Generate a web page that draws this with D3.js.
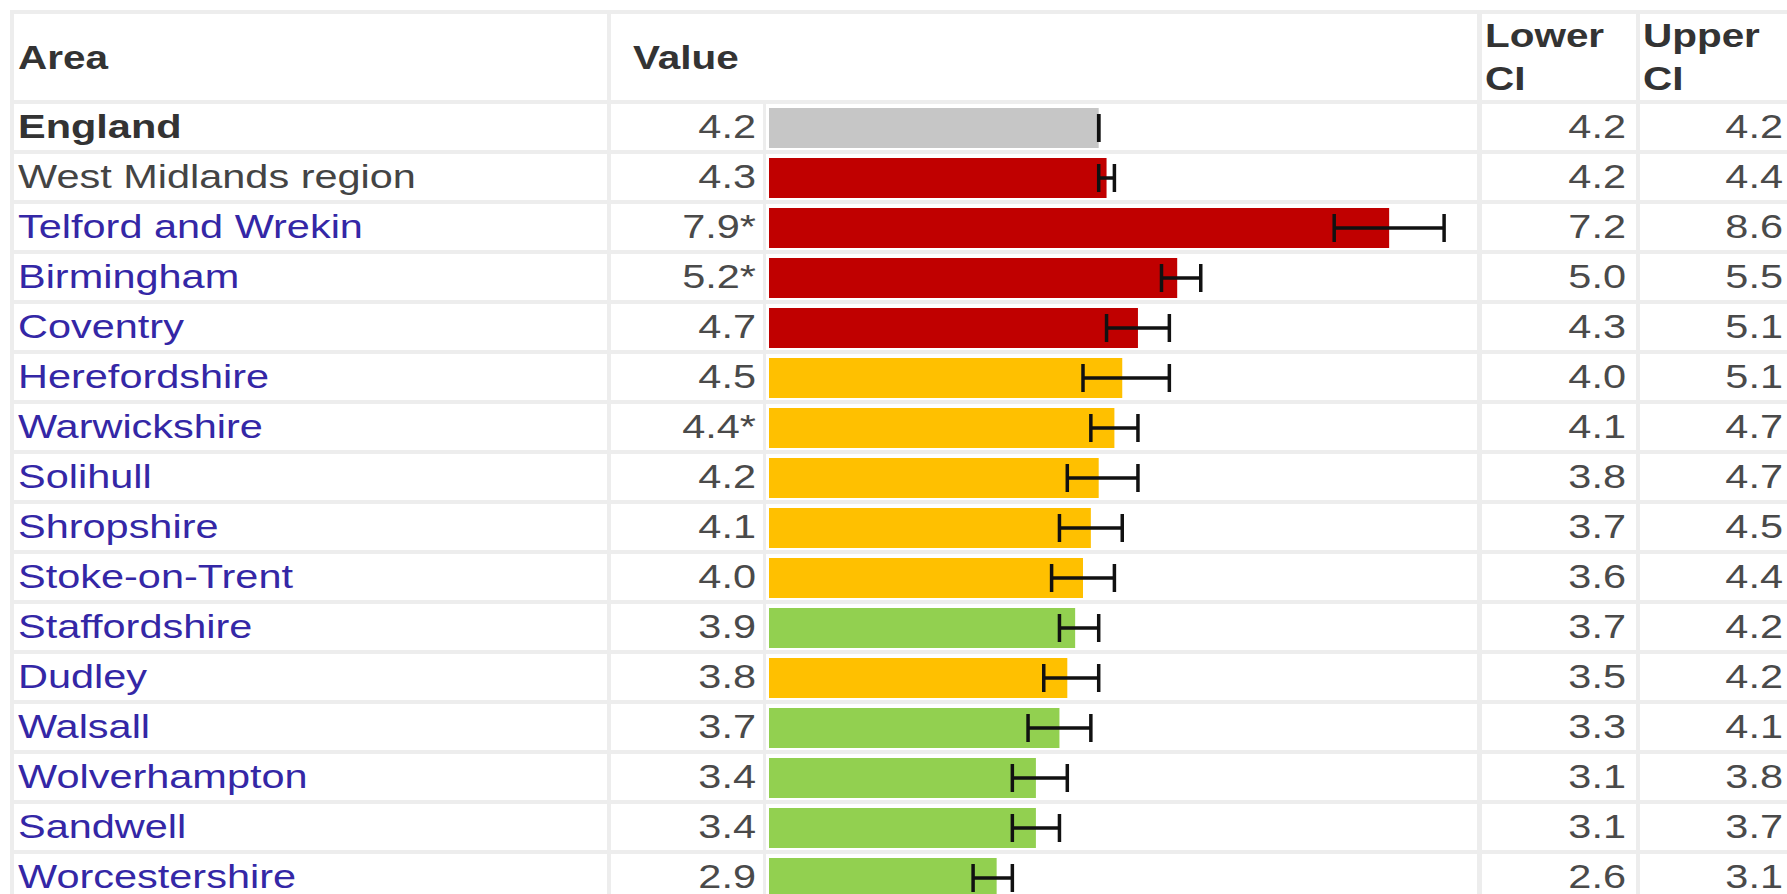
<html>
<head>
<title>West Midlands indicator table</title>
<script src="https://cdnjs.cloudflare.com/ajax/libs/d3/7.8.5/d3.min.js"></script>
<style>
body { margin: 0; background: #fff; }
svg { display: block; }
text { font-family: "Liberation Sans", Arial, sans-serif; font-size: 34px; }
</style>
</head>
<body>
<div id="chart"></div>

<script>

var areas = ["England", "West Midlands region", "Telford and Wrekin", "Birmingham", "Coventry",
	"Herefordshire", "Warwickshire", "Solihull", "Shropshire", "Stoke-on-Trent",
	"Staffordshire", "Dudley", "Walsall", "Wolverhampton", "Sandwell", "Worcestershire"];
var values  = [4.2, 4.3, 7.9, 5.2, 4.7, 4.5, 4.4, 4.2, 4.1, 4.0, 3.9, 3.8, 3.7, 3.4, 3.4, 2.9];
var flagged = [false, false, true, true, false, false, true, false, false, false, false, false, false, false, false, false];
var lowerCI = [4.2, 4.2, 7.2, 5.0, 4.3, 4.0, 4.1, 3.8, 3.7, 3.6, 3.7, 3.5, 3.3, 3.1, 3.1, 2.6];
var upperCI = [4.2, 4.4, 8.6, 5.5, 5.1, 5.1, 4.7, 4.7, 4.5, 4.4, 4.2, 4.2, 4.1, 3.8, 3.7, 3.1];
var significance = ["benchmark", "higher", "higher", "higher", "higher", "similar", "similar", "similar",
	"similar", "similar", "lower", "similar", "lower", "lower", "lower", "lower"];
var headerLabels = ["Area", "Value", ["Lower", "CI"], ["Upper", "CI"]];

var width = 1787;
var height = 894;
var stretch = 1.22;      // the screenshot text is wider than it is tall
var headStretch = 1.19;

var fillFor = { benchmark: "#c6c6c6", higher: "#c00000", similar: "#ffc000", lower: "#92d050" };

var rows = areas.map(function (a, i) {
	return {
		area: a, value: values[i], flag: flagged[i],
		lo: lowerCI[i], hi: upperCI[i], sig: significance[i], index: i
	};
});

var svg = d3.select("#chart").append("svg").attr("width", width).attr("height", height);

var xScale = d3.scaleLinear().domain([0, 9]).range([769, 769 + 9 * 78.5]);
var yScale = d3.scaleBand().domain(areas).range([102, 902]).paddingInner(0.08).paddingOuter(0.04);

// column edges of the table cells
var cols = {
	area:  [14, 607],
	num:   [611, 763],
	bar:   [766, 1477],
	lower: [1482, 1636],
	upper: [1640, 1800]
};

// grey table backing that shows through as cell borders
svg.append("rect")
.attr("x", 10).attr("y", 10)
.attr("width", width).attr("height", height)
.style("fill", "#ededed");

// header cells
var headerCells = [cols.area, [cols.num[0], cols.bar[1]], cols.lower, cols.upper];
svg.selectAll(".headCell").data(headerCells)
.enter().append("rect")
.attr("class", "headCell")
.attr("x", function(d) { return d[0]; })
.attr("y", 14)
.attr("width", function(d) { return d[1] - d[0]; })
.attr("height", 86)
.style("fill", "#fff");

function stretched(sel, x, y) {
	return sel.attr("transform", function(d, i) {
		return "translate(" + x(d, i) + "," + y(d, i) + ") scale(" + stretch + ",1)";
	});
}

var headerX = [18, 633, 1485, 1643];
headerLabels.forEach(function (label, i) {
	var lines = Array.isArray(label) ? label : [label];
	var baselines = lines.length == 1 ? [69] : [47, 90];
	lines.forEach(function (line, j) {
		svg.append("text")
		.attr("transform", "translate(" + headerX[i] + "," + baselines[j] + ") scale(" + headStretch + ",1)")
		.style("font-weight", "bold")
		.style("fill", "#333")
		.text(line);
	});
});

// body cells
var rowGroups = svg.selectAll(".row").data(rows)
.enter().append("g")
.attr("class", "row")
.attr("transform", function(d) { return "translate(0," + yScale(d.area) + ")"; });

["area", "num", "bar", "lower", "upper"].forEach(function (c) {
	rowGroups.append("rect")
	.attr("x", cols[c][0])
	.attr("width", cols[c][1] - cols[c][0])
	.attr("height", yScale.bandwidth())
	.style("fill", "#fff");
});

var base = 34;

stretched(rowGroups.append("text"), function() { return 18; }, function() { return base; })
.style("font-weight", function(d) { return d.index == 0 ? "bold" : "normal"; })
.style("fill", function(d) { return d.index == 0 ? "#333" : (d.index == 1 ? "#444" : "#3427a6"); })
.text(function(d) { return d.area; });

stretched(rowGroups.append("text"), function() { return 756; }, function() { return base; })
.attr("text-anchor", "end")
.style("fill", "#4a4a4a")
.text(function(d) { return d.value.toFixed(1) + (d.flag ? "*" : ""); });

stretched(rowGroups.append("text"), function() { return 1626; }, function() { return base; })
.attr("text-anchor", "end")
.style("fill", "#4a4a4a")
.text(function(d) { return d.lo.toFixed(1); });

stretched(rowGroups.append("text"), function() { return 1783; }, function() { return base; })
.attr("text-anchor", "end")
.style("fill", "#4a4a4a")
.text(function(d) { return d.hi.toFixed(1); });

// bars
var barTop = 4, barH = yScale.bandwidth() - 6;
rowGroups.append("rect")
.attr("class", "bar")
.attr("x", xScale(0))
.attr("y", barTop)
.attr("width", function(d) { return xScale(d.value) - xScale(0); })
.attr("height", barH)
.style("fill", function(d) { return fillFor[d.sig]; });

// confidence intervals
var mid = barTop + barH / 2;
var cap = 14;
rowGroups.append("line")
.attr("x1", function(d) { return xScale(d.lo); })
.attr("x2", function(d) { return xScale(d.hi); })
.attr("y1", mid).attr("y2", mid)
.style("stroke", "#111")
.style("stroke-width", 3.5);

rowGroups.selectAll(".cap")
.data(function(d) { return [d.lo, d.hi]; })
.enter().append("line")
.attr("class", "cap")
.attr("x1", function(v) { return xScale(v); })
.attr("x2", function(v) { return xScale(v); })
.attr("y1", mid - cap).attr("y2", mid + cap)
.style("stroke", "#111")
.style("stroke-width", 3.5);

</script>
</body>
</html>
